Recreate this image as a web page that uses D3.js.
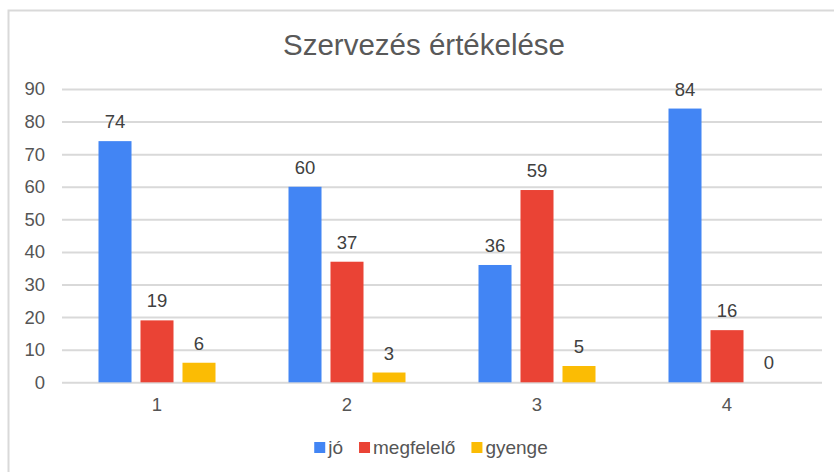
<!DOCTYPE html>
<html>
<head>
<meta charset="utf-8">
<script src="https://cdn.jsdelivr.net/npm/d3@7"></script>
<style>
  body { margin: 0; background: #fff; }
  text { font-family: "Liberation Sans", Arial, sans-serif; }
</style>
</head>
<body>
<div id="chart"></div>
<script>
// adatok
var kategoriak = ["1", "2", "3", "4"];
var sorozatok = ["jó", "megfelelő", "gyenge"];
var jo = [74, 60, 36, 84];
var megfelelo = [19, 37, 59, 16];
var gyenge = [6, 3, 5, 0];
var yTicks = [0, 10, 20, 30, 40, 50, 60, 70, 80, 90];
var szinek = ["#4285F4", "#EA4335", "#FBBC04"];

var ertekek = [jo, megfelelo, gyenge];
var width = 834, height = 472;
var balX = 62, jobbX = 822, felsoY = 89, alsoY = 382.3;

var svg = d3.select("#chart").append("svg")
    .attr("width", width)
    .attr("height", height);

// keret (csak bal és felső oldal látszik)
svg.append("rect")
    .attr("x", 8.5).attr("y", 10.5)
    .attr("width", 900).attr("height", 600)
    .attr("fill", "#fff")
    .attr("stroke", "#d9d9d9")
    .attr("stroke-width", 2);

var x0 = d3.scaleBand()
    .domain(kategoriak)
    .range([balX, jobbX])
    .paddingInner(0.3842)
    .paddingOuter(0.1921);

var x1 = d3.scaleBand()
    .domain(sorozatok)
    .range([0, x0.bandwidth()])
    .paddingInner(0.214);

var y = d3.scaleLinear()
    .domain([0, 90])
    .range([alsoY, felsoY]);

// rácsvonalak
var yAxis = d3.axisLeft(y)
    .tickValues(yTicks)
    .tickSize(-(jobbX - balX))
    .tickPadding(17);

var gY = svg.append("g")
    .attr("transform", "translate(" + balX + ",0)")
    .call(yAxis);
gY.select(".domain").remove();
gY.selectAll(".tick line")
    .attr("stroke", "#d9d9d9")
    .attr("stroke-width", 2);
gY.selectAll(".tick text")
    .attr("fill", "#555")
    .style("font-size", "18.5px")
    .style("font-family", "'Liberation Sans', Arial, sans-serif");

// oszlopok
var csoport = svg.selectAll("g.csoport")
    .data(kategoriak)
    .enter().append("g")
    .attr("class", "csoport")
    .attr("transform", function (d) { return "translate(" + x0(d) + ",0)"; });

csoport.selectAll("rect")
    .data(function (d, i) {
        return sorozatok.map(function (s, j) { return { s: s, v: ertekek[j][i], c: szinek[j] }; });
    })
    .enter().append("rect")
    .attr("x", function (d) { return x1(d.s); })
    .attr("y", function (d) { return y(d.v); })
    .attr("width", x1.bandwidth())
    .attr("height", function (d) { return alsoY - y(d.v); })
    .attr("fill", function (d) { return d.c; });

csoport.selectAll("text")
    .data(function (d, i) {
        return sorozatok.map(function (s, j) { return { s: s, v: ertekek[j][i] }; });
    })
    .enter().append("text")
    .attr("x", function (d) { return x1(d.s) + x1.bandwidth() / 2; })
    .attr("y", function (d) { return y(d.v) - 13; })
    .attr("text-anchor", "middle")
    .attr("fill", "#404040")
    .style("font-size", "18.5px")
    .text(function (d) { return d.v; });

// kategória tengely
var xAxis = d3.axisBottom(x0).tickSize(0).tickPadding(16);
var gX = svg.append("g")
    .attr("transform", "translate(0," + alsoY + ")")
    .call(xAxis);
gX.select(".domain").remove();
gX.selectAll(".tick text")
    .attr("fill", "#555")
    .style("font-size", "18.5px")
    .style("font-family", "'Liberation Sans', Arial, sans-serif");

// cím
svg.append("text")
    .attr("x", 424)
    .attr("y", 55)
    .attr("text-anchor", "middle")
    .attr("fill", "#595959")
    .style("font-size", "29.5px")
    .text("Szervezés értékelése");

// jelmagyarázat
var legend = svg.append("g");
var lx = 0;
sorozatok.forEach(function (s, i) {
    var g = legend.append("g").attr("transform", "translate(" + lx + ",0)");
    g.append("rect")
        .attr("x", 0).attr("y", 442)
        .attr("width", 11).attr("height", 11)
        .attr("fill", szinek[i]);
    var t = g.append("text")
        .attr("x", 14).attr("y", 453.5)
        .attr("fill", "#555")
        .style("font-size", "19px")
        .text(s);
    lx += 14 + t.node().getComputedTextLength() + 16;
});
var lw = lx - 16;
legend.attr("transform", "translate(" + (431 - lw / 2) + ",0)");
</script>
</body>
</html>
